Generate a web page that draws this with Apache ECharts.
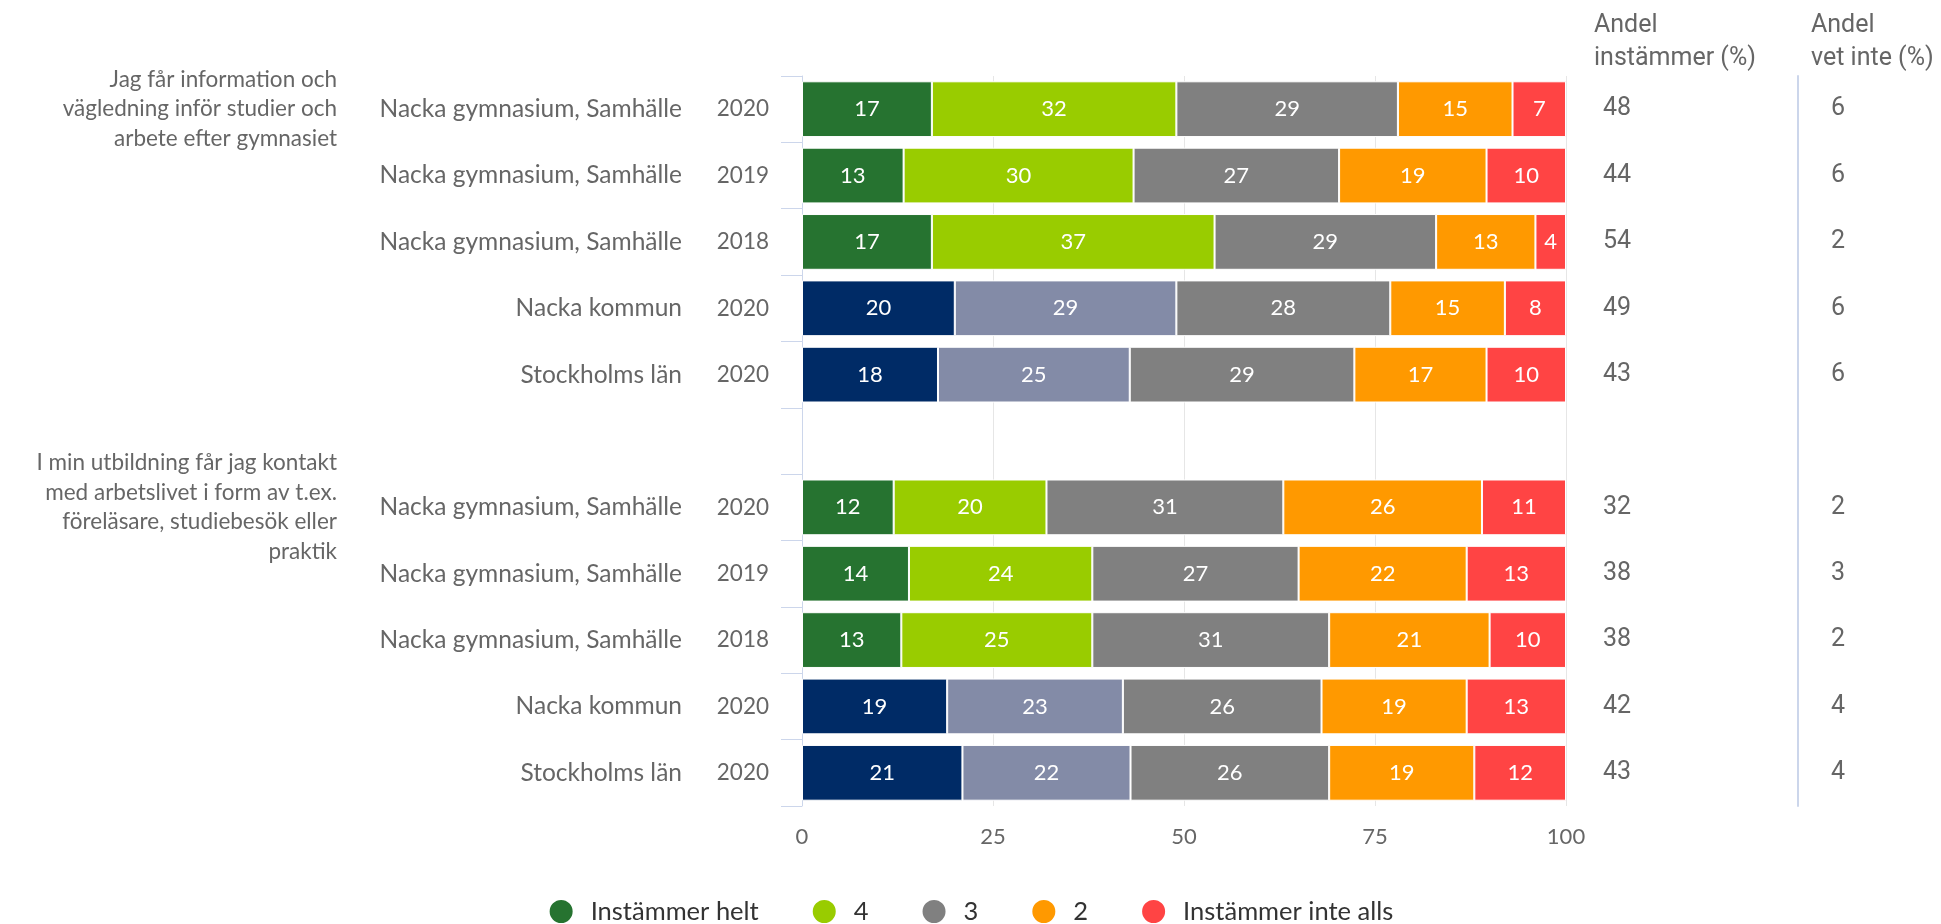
<!DOCTYPE html>
<html>
<head>
<meta charset="utf-8">
<script src="https://cdn.jsdelivr.net/npm/echarts@6/dist/echarts.min.js"></script>
<style>
html,body{margin:0;padding:0;background:#fff;}
#chart{width:1941px;height:924px;}
</style>
</head>
<body>
<div id="chart"></div>
<script>
// ---- data ----
const questions = [
  'Jag får information och\nvägledning inför studier och\narbete efter gymnasiet',
  'I min utbildning får jag kontakt\nmed arbetslivet i form av t.ex.\nföreläsare, studiebesök eller\npraktik'
];
const entities = ['Nacka gymnasium, Samhälle','Nacka gymnasium, Samhälle','Nacka gymnasium, Samhälle','Nacka kommun','Stockholms län','',
                  'Nacka gymnasium, Samhälle','Nacka gymnasium, Samhälle','Nacka gymnasium, Samhälle','Nacka kommun','Stockholms län'];
const years = ['2020','2019','2018','2020','2020','','2020','2019','2018','2020','2020'];
const seriesNames = ['Instämmer helt','4','3','2','Instämmer inte alls'];
const instammerHelt  = [17, 13.3, 17, 20, 17.8, null, 12, 14, 13, 19, 21];
const fyra           = [32, 30.1, 37, 29, 25.1, null, 20, 24, 25, 23, 22];
const tre            = [29, 26.9, 29, 28, 29.4, null, 31, 27, 31, 26, 26];
const tva            = [15, 19.3, 13, 15, 17.3, null, 26, 22, 21, 19, 19];
const instammerInte  = [7, 10.4, 4, 8, 10.4, null, 11, 13, 10, 13, 12];
const andelInstammer = ['48','44','54','49','43','','32','38','38','42','43'];
const andelVetInte   = ['6','6','2','6','6','','2','3','2','4','4'];
const xTicks = [0, 25, 50, 75, 100];

// ---- styles ----
const colors = ['#267330','#99cc00','#808080','#ff9900','#ff4444'];
const compColors = ['#002b66','#838ba7'];
const labelFont = 'Lato';
const numFont = 'Roboto';

const allValues = [instammerHelt, fyra, tre, tva, instammerInte];
const questionLabels = entities.map((e, i) => i === 0 ? questions[0] : (i === 6 ? questions[1] : ''));

const series = allValues.map((vals, si) => ({
  name: seriesNames[si],
  type: 'bar',
  stack: 'total',
  yAxisIndex: 0,
  barCategoryGap: '16%',
  itemStyle: { color: colors[si], borderColor: '#fff', borderWidth: 1 },
  label: {
    show: true, position: 'inside', color: '#fff',
    fontFamily: labelFont, fontSize: 22,
    formatter: p => (p.value == null ? '' : Math.round(p.value))
  },
  data: vals.map((v, i) => {
    const isComp = entities[i] === 'Nacka kommun' || entities[i] === 'Stockholms län';
    if (isComp && si < 2) return { value: v, itemStyle: { color: compColors[si] } };
    return v;
  })
}));

const chart = echarts.init(document.getElementById('chart'));
chart.setOption({
  animation: false,
  grid: { left: 802, right: 375, top: 76, bottom: 118 },
  legend: {
    data: seriesNames,
    left: 'center',
    top: 893,
    icon: 'circle',
    itemWidth: 25, itemHeight: 25,
    itemGap: 52,
    textStyle: { fontFamily: labelFont, fontSize: 25.5, color: '#333', padding: [0,0,0,12] }
  },
  xAxis: {
    type: 'value', min: 0, max: 100, interval: 25,
    axisLine: { show: false }, axisTick: { show: false },
    splitLine: { lineStyle: { color: '#e6e6e6', width: 1 } },
    axisLabel: { color: '#666', fontFamily: labelFont, fontSize: 22, margin: 20,
      formatter: v => xTicks.includes(v) ? String(v) : '' }
  },
  yAxis: [
    {
      type: 'category', inverse: true, data: years, position: 'left',
      axisLine: { show: true, lineStyle: { color: '#ccd6eb' } },
      axisTick: { show: true, length: 21, interval: 0, lineStyle: { color: '#ccd6eb' } },
      axisLabel: { interval: 0, margin: 33, color: '#666', fontFamily: labelFont, fontSize: 22.5 }
    },
    {
      type: 'category', inverse: true, data: entities, position: 'left',
      axisLine: { show: false }, axisTick: { show: false },
      axisLabel: { interval: 0, margin: 120, color: '#666', fontFamily: labelFont, fontSize: 24.5 }
    },
    {
      type: 'category', inverse: true, data: questionLabels, position: 'left',
      axisLine: { show: false }, axisTick: { show: false },
      axisLabel: { interval: 0, margin: 465, color: '#666', fontFamily: labelFont, fontSize: 22.5, lineHeight: 29.5, align: 'right' }
    },
    {
      type: 'category', inverse: true, data: andelInstammer, position: 'right',
      axisLine: { show: false }, axisTick: { show: false },
      axisLabel: { interval: 0, margin: 37, color: '#666', fontFamily: numFont, fontSize: 25 }
    },
    {
      type: 'category', inverse: true, data: andelVetInte, position: 'right', offset: 232,
      axisLine: { show: true, lineStyle: { color: '#ccd6eb', width: 2 } }, axisTick: { show: false },
      axisLabel: { interval: 0, margin: 33, color: '#666', fontFamily: numFont, fontSize: 25 }
    }
  ],
  graphic: [
    { type: 'text', left: 1594, top: 9, style: { text: 'Andel\ninstämmer (%)', font: '25px Roboto', fill: '#666', lineHeight: 33 } },
    { type: 'text', left: 1811, top: 9, style: { text: 'Andel\nvet inte (%)', font: '25px Roboto', fill: '#666', lineHeight: 33 } }
  ],
  series: series
});
</script>
</body>
</html>
